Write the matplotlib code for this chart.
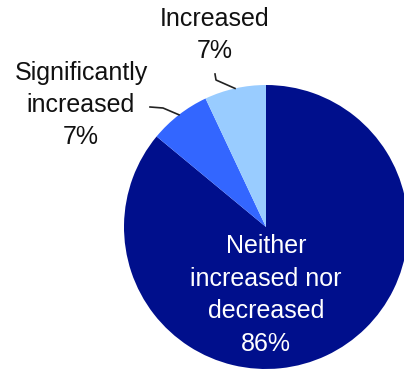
import numpy as np
import matplotlib
matplotlib.use('Agg')
import matplotlib.pyplot as plt

plt.rcParams['font.family'] = ['Liberation Sans', 'DejaVu Sans']

# Share of answers
labels = ['Neither\nincreased nor\ndecreased', 'Significantly\nincreased', 'Increased']
shares = [86, 7, 7]
colors = ['#000f8c', '#3366ff', '#99ccff']

fig = plt.figure(figsize=(4.04, 3.73), dpi=100)
ax = fig.add_axes([0, 0, 1, 1])

cx, cy, r = 266, 146, 142
wedges, _ = ax.pie(shares, colors=colors, startangle=90, counterclock=False,
                   center=(cx, cy), radius=r, frame=True,
                   wedgeprops=dict(linewidth=0))
ax.set_xlim(0, 404)
ax.set_ylim(0, 373)
ax.set_aspect('equal')
ax.axis('off')

# big slice label inside
ax.text(266, 373 - 295, '%s\n%d%%' % (labels[0], shares[0]), color='white',
        fontsize=18, ha='center', va='center', linespacing=1.45)

# outside labels with leader lines
text_pos = {1: (81, 373 - 105), 2: (215, 373 - 35)}
line_start = {1: [(150, 373 - 107), (163, 373 - 108)],
              2: [(215, 373 - 74), (216, 373 - 80)]}
for i in (1, 2):
    w = wedges[i]
    mid = np.deg2rad((w.theta1 + w.theta2) / 2)
    ex, ey = cx + r * np.cos(mid), cy + r * np.sin(mid)
    pts = line_start[i] + [(ex, ey)]
    ax.plot([p[0] for p in pts], [p[1] for p in pts], color='#222222', lw=1.2)
    tx, ty = text_pos[i]
    ax.text(tx, ty, '%s\n%d%%' % (labels[i], shares[i]), color='#111111',
            fontsize=18, ha='center', va='center', linespacing=1.42)

fig.savefig('out.png', dpi=100)
